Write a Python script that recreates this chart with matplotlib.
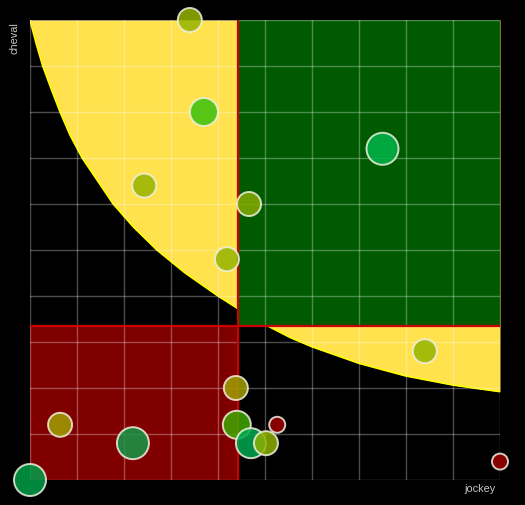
import matplotlib
matplotlib.use("Agg")
import matplotlib.pyplot as plt
import numpy as np

# axis labels
x_label = "jockey"
y_label = "cheval"

# bubbles (x: jockey score 0-100, y: cheval score 0-25)
bx = [34, 37, 75, 24.3, 46.6, 41.9, 84, 43.8, 6.4, 21.9, 0, 44, 47, 50.2, 52.6, 100]
by = [25, 20, 18, 16, 15, 12, 7, 5, 3, 2, 0, 3, 2, 2, 3, 1]
br = [12, 14, 16, 12, 12, 12, 12, 12, 12, 16, 16, 14, 15, 12, 8, 8]  # radius in px
bc = ["#96b400", "#38c00c", "#00b44a", "#96b400", "#86ac00", "#96b400", "#96b400",
      "#a0a000", "#a0a000", "#149a48", "#00a048", "#40a800", "#00a850", "#8cb000",
      "#a00000", "#a00000"]

# thresholds
x_thr = 44.3
y_thr = 8.37

# boundary curve
cx = [0, 1.28, 2.7, 4.51, 6.4, 8.5, 11.1, 14.4, 17.7, 22.0, 27.0, 33.0, 40.0, 44.3,
      50.6, 55.3, 60, 70, 80, 90, 100]
cy = [25, 23.75, 22.5, 21.25, 20, 18.75, 17.5, 16.25, 15, 13.75, 12.5, 11.25, 10.0, 9.3,
      8.37, 7.75, 7.24, 6.34, 5.65, 5.16, 4.8]

W, H = 525, 505
fig = plt.figure(figsize=(W / 100, H / 100), dpi=100, facecolor="black")
ax = fig.add_axes([30 / W, (H - 480) / H, 470 / W, 460 / H])
ax.set_facecolor("black")
ax.set_xlim(0, 100)
ax.set_ylim(0, 25)

ax.fill_between(cx, cy, 25, color="#ffe24d", zorder=1, linewidth=0)
ax.plot(cx, cy, color="#ffff00", lw=1.2, zorder=1.5, solid_joinstyle="round")
ax.fill_between([x_thr, 100], y_thr, 25, color="#005a00", zorder=2, linewidth=0)
ax.fill_between([0, x_thr], 0, y_thr, color="#800000", zorder=2, linewidth=0)

ax.set_xticks(np.linspace(0, 100, 11))
ax.set_yticks(np.linspace(0, 25, 11))
ax.grid(True, color="white", alpha=0.3, lw=1.0, zorder=3)
ax.set_axisbelow(False)
ax.tick_params(length=0, labelbottom=False, labelleft=False)
for s in ax.spines.values():
    s.set_visible(False)

ax.axvline(x_thr, color="#cc0000", lw=1.6, zorder=4)
ax.axhline(y_thr, color="#cc0000", lw=1.6, zorder=4)

sizes = [(r * 72 / 100 * 2) ** 2 for r in br]
ax.scatter(bx, by, s=sizes, c=bc, alpha=0.85, edgecolors="#f0f0e0", linewidths=1.4,
           zorder=5, clip_on=False)

fig.text(15 / W, 1 - 38 / H, y_label, rotation=90, color="#c8c8c8", fontsize=7.8,
         family="Liberation Sans", ha="center", va="center")
fig.text(480 / W, 1 - 489 / H, x_label, color="#c8c8c8", fontsize=7.8,
         family="Liberation Sans", ha="center", va="center")

fig.savefig("out.png", dpi=100, facecolor="black")
